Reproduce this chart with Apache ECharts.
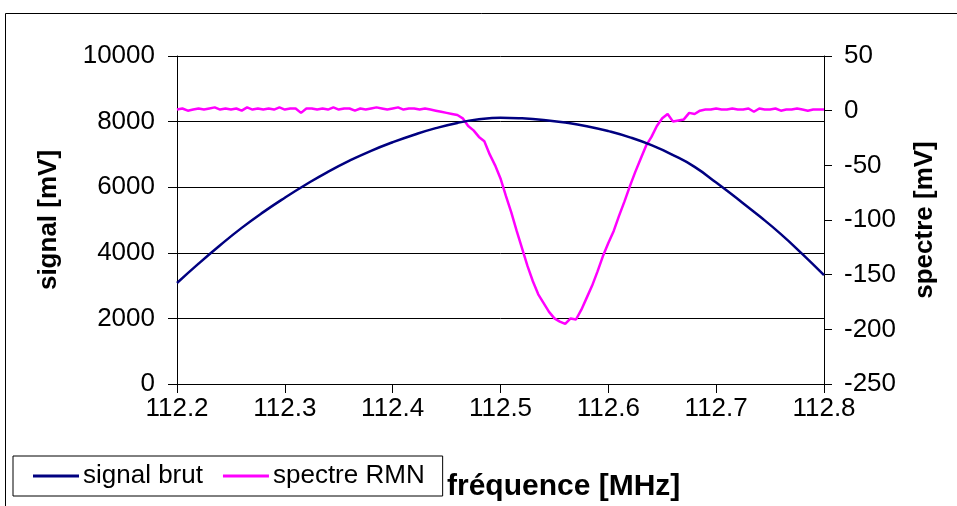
<!DOCTYPE html>
<html>
<head>
<meta charset="utf-8">
<script src="https://cdn.jsdelivr.net/npm/echarts@6/dist/echarts.min.js"></script>
<style>
	html, body { margin: 0; padding: 0; background: #fff; }
	#chart { width: 957px; height: 506px; }
</style>
</head>
<body>
<div id="chart"></div>
<script>
// signal brut, read every 0.02 MHz
var freqSignal = [112.20, 112.22, 112.24, 112.26, 112.28, 112.30, 112.32, 112.34, 112.36, 112.38,
	112.40, 112.42, 112.44, 112.46, 112.48, 112.50, 112.52, 112.54, 112.56, 112.58,
	112.60, 112.62, 112.64, 112.66, 112.68, 112.70, 112.72, 112.74, 112.76, 112.78, 112.80];
var signalBrut = [3080, 3670, 4230, 4760, 5240, 5680, 6090, 6470, 6810, 7110,
	7370, 7600, 7800, 7960, 8070, 8120, 8100, 8050, 7970, 7860,
	7710, 7520, 7280, 6980, 6620, 6140, 5640, 5120, 4570, 3960, 3320];

// spectre RMN, read every 0.005 MHz
var freqSpectre = [];
var spectreRMN = [
	1, 2, 0, 1, 2, 1, 2, 3, 1, 2,
	1, 2, 0, 3, 1, 2, 1, 2, 1, 3,
	1, 2, 2, -2, 2, 2, 1, 2, 1, 3,
	1, 2, 2, 0, 2, 1, 2, 3, 2, 1,
	2, 3, 1, 2, 2, 1, 2, 1, 0, -1,
	-2, -3, -4, -7, -14, -18, -24, -28, -40, -50,
	-62, -78, -93, -110, -126, -142, -156, -168, -176, -184,
	-190, -193, -195, -190, -191, -182, -171, -160, -147, -133,
	-121, -110, -96, -83, -69, -56, -44, -32, -24, -14,
	-7, -3, -10, -9, -8, -2, -3, 0, 1, 1,
	2, 1, 1, 2, 1, 1, 2, -1, 2, 1,
	1, 2, 0, 1, 1, 2, 1, 0, 1, 1,
	1
];
for (var i = 0; i < spectreRMN.length; i++) {
	freqSpectre.push(+(112.2 + i * 0.005).toFixed(3));
}

var xTicks = { min: 112.2, max: 112.8, interval: 0.1 };
var leftTicks = { min: 0, max: 10000, interval: 2000 };
var rightTicks = { min: -250, max: 50, interval: 50 };

var FONT = '"Liberation Sans", Arial, sans-serif';

function pairs(xs, ys) {
	var out = [];
	for (var i = 0; i < xs.length; i++) {
		out.push([xs[i], ys[i]]);
	}
	return out;
}

var chart = echarts.init(document.getElementById('chart'), null, { renderer: 'canvas' });

var option = {
	animation: false,
	backgroundColor: '#fff',
	grid: { left: 177, right: 133, top: 56, bottom: 122 },
	legend: {
		left: 13,
		top: 456,
		orient: 'horizontal',
		borderColor: '#000',
		borderWidth: 1,
		padding: [7, 18, 7, 20],
		itemGap: 20,
		itemWidth: 46,
		itemHeight: 3,
		icon: 'rect',
		textStyle: { fontFamily: FONT, fontSize: 26, color: '#000', padding: [0, 0, 0, -1] },
		data: ['signal brut', 'spectre RMN']
	},
	xAxis: {
		type: 'value',
		min: xTicks.min,
		max: xTicks.max,
		interval: xTicks.interval,
		axisLine: { lineStyle: { color: '#000', width: 1 } },
		axisTick: { show: true, inside: false, length: 9, lineStyle: { color: '#000' } },
		axisLabel: {
			margin: 12,
			fontFamily: FONT, fontSize: 26, color: '#000',
			formatter: function (v) { return v.toFixed(1); }
		},
		splitLine: { show: false }
	},
	yAxis: [{
		type: 'value',
		position: 'left',
		min: leftTicks.min,
		max: leftTicks.max,
		interval: leftTicks.interval,
		name: 'signal [mV]',
		nameLocation: 'middle',
		nameGap: 115,
		nameRotate: 90,
		nameTextStyle: { fontFamily: FONT, fontSize: 26, fontWeight: 'bold', color: '#000' },
		axisLine: { show: true, lineStyle: { color: '#000', width: 1 } },
		axisTick: { show: true, length: 9, lineStyle: { color: '#000' } },
		axisLabel: {
			margin: 22, fontFamily: FONT, fontSize: 26, color: '#000',
			formatter: function (v) { return String(v); }
		},
		splitLine: { show: true, lineStyle: { color: '#000', width: 1 } }
	}, {
		type: 'value',
		position: 'right',
		min: rightTicks.min,
		max: rightTicks.max,
		interval: rightTicks.interval,
		name: 'spectre [mV]',
		nameLocation: 'middle',
		nameGap: 88,
		nameRotate: 90,
		nameTextStyle: { fontFamily: FONT, fontSize: 26, fontWeight: 'bold', color: '#000' },
		axisLine: { show: true, lineStyle: { color: '#000', width: 1 } },
		axisTick: { show: true, length: 8, lineStyle: { color: '#000' } },
		axisLabel: {
			margin: 20, fontFamily: FONT, fontSize: 26, color: '#000',
			formatter: function (v) { return String(v); }
		},
		splitLine: { show: false }
	}],
	graphic: [{
		type: 'rect',
		shape: { x: 5.5, y: 13.5, width: 1200, height: 800 },
		style: { fill: 'none', stroke: '#000', lineWidth: 1 },
		silent: true
	}, {
		type: 'text',
		left: 447,
		top: 472,
		style: {
			text: 'fréquence [MHz]',
			font: 'bold 30px ' + FONT,
			fill: '#000'
		}
	}],
	series: [{
		name: 'signal brut',
		type: 'line',
		yAxisIndex: 0,
		smooth: true,
		showSymbol: false,
		data: pairs(freqSignal, signalBrut),
		itemStyle: { color: '#000080' },
		lineStyle: { color: '#000080', width: 2.5 },
		z: 3
	}, {
		name: 'spectre RMN',
		type: 'line',
		yAxisIndex: 1,
		showSymbol: false,
		data: pairs(freqSpectre, spectreRMN),
		itemStyle: { color: '#ff00ff' },
		lineStyle: { color: '#ff00ff', width: 2.5 },
		z: 2
	}]
};

chart.setOption(option);
</script>
</body>
</html>
